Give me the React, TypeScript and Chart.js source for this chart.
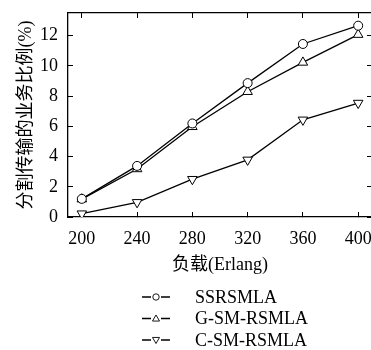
import React, { useEffect, useRef } from 'react';
import { Chart, registerables } from 'chart.js';
Chart.register(...registerables);

const loads = [200, 240, 280, 320, 360, 400];
const seriesNames = ['SSRSMLA', 'G-SM-RSMLA', 'C-SM-RSMLA'];
const ssrsmla = [1.2, 3.38, 6.19, 8.86, 11.45, 12.66];
const gsmRsmla = [1.18, 3.18, 5.97, 8.29, 10.23, 12.07];
const csmRsmla = [0.22, 0.97, 2.5, 3.78, 6.43, 7.54];
const yTickValues = [0, 2, 4, 6, 8, 10, 12];
const xTitle = '负载(Erlang)';
const yTitle = '分割传输的业务比例(%)';

const SERIF = '"Liberation Serif", "Noto Sans CJK SC", serif';

const legendPlugin = {
  id: 'stackedLegend',
  afterDraw(chart: any) {
    const ctx = chart.ctx;
    ctx.save();
    chart.data.datasets.forEach((ds: any, i: number) => {
      const y = 297 + i * 21.5;
      ctx.strokeStyle = '#000';
      ctx.lineWidth = 1.3;
      ctx.beginPath();
      ctx.moveTo(142, y);
      ctx.lineTo(151, y);
      ctx.moveTo(161, y);
      ctx.lineTo(170, y);
      ctx.stroke();
      ctx.lineWidth = 0.9;
      ctx.fillStyle = '#fff';
      const cx = 156;
      const r = 3.2;
      ctx.beginPath();
      if (ds.pointStyle === 'circle') {
        ctx.arc(cx, y, r, 0, Math.PI * 2);
      } else {
        const dir = ds.pointRotation === 180 ? -1 : 1;
        ctx.moveTo(cx, y - dir * r * 1.1);
        ctx.lineTo(cx - r * 1.1, y + dir * r * 0.8);
        ctx.lineTo(cx + r * 1.1, y + dir * r * 0.8);
        ctx.closePath();
      }
      ctx.fill();
      ctx.stroke();
      ctx.fillStyle = '#000';
      ctx.font = '18px ' + SERIF;
      ctx.textAlign = 'left';
      ctx.textBaseline = 'middle';
      ctx.fillText(ds.label, 195, y + 1);
    });
    ctx.restore();
  },
};

const zeroPad = (s: any) => {
  s.paddingTop = 0;
  s.paddingBottom = 0;
  s.paddingLeft = 0;
  s.paddingRight = 0;
};

export default function App() {
  const ref = useRef<HTMLCanvasElement>(null);
  useEffect(() => {
    const mk = (vals: number[]) => loads.map((x, i) => ({ x, y: vals[i] }));
    const common = {
      borderColor: '#000',
      borderWidth: 1.3,
      pointBackgroundColor: '#fff',
      pointBorderColor: '#000',
      pointBorderWidth: 1,
      tension: 0,
      fill: false,
    };
    const xTicksBuild = (s: any) => {
      s.ticks = loads.map((v) => ({ value: v }));
    };
    const yTicksBuild = (s: any) => {
      s.ticks = yTickValues.map((v) => ({ value: v }));
    };
    const grid = {
      drawOnChartArea: false,
      drawTicks: true,
      tickLength: -5,
      color: '#000',
      tickColor: '#000',
      lineWidth: 1,
    };
    const border = { display: true, color: '#000', width: 1.3 };
    const chart = new Chart(ref.current!, {
      type: 'line',
      data: {
        datasets: [
          { ...common, label: seriesNames[0], data: mk(ssrsmla), pointStyle: 'circle', pointRadius: 4.5 },
          { ...common, label: seriesNames[1], data: mk(gsmRsmla), pointStyle: 'triangle', pointRadius: 5.5 },
          { ...common, label: seriesNames[2], data: mk(csmRsmla), pointStyle: 'triangle', pointRotation: 180, pointRadius: 5.5 },
        ],
      } as any,
      options: {
        responsive: false,
        animation: false,
        devicePixelRatio: 1,
        layout: { autoPadding: false, padding: { top: 13, left: 0, right: 0, bottom: 0 } },
        plugins: { legend: { display: false }, tooltip: { enabled: false } },
        scales: {
          x: {
            type: 'linear',
            position: 'bottom',
            min: 190,
            max: 410,
            afterBuildTicks: xTicksBuild,
            afterFit: (s: any) => { s.height = 133; zeroPad(s); },
            grid,
            border,
            ticks: { color: '#000', padding: 16, font: { family: SERIF, size: 18 }, maxRotation: 0 },
            title: { display: true, text: xTitle, color: '#000', font: { family: SERIF, size: 18 }, padding: { top: 0, bottom: 74 } },
          },
          x2: {
            type: 'linear',
            position: 'top',
            min: 190,
            max: 410,
            afterBuildTicks: xTicksBuild,
            afterFit: (s: any) => { s.height = 0; zeroPad(s); },
            grid,
            border,
            ticks: { display: false },
          },
          y: {
            type: 'linear',
            position: 'left',
            min: 0,
            max: 13.5,
            afterBuildTicks: yTicksBuild,
            afterFit: (s: any) => { s.width = 68; zeroPad(s); },
            grid,
            border,
            ticks: { color: '#000', padding: 15, font: { family: SERIF, size: 18 } },
            title: { display: true, text: yTitle, color: '#000', font: { family: SERIF, size: 18 }, padding: { top: 15, bottom: 0 } },
          },
          y2: {
            type: 'linear',
            position: 'right',
            min: 0,
            max: 13.5,
            afterBuildTicks: yTicksBuild,
            afterFit: (s: any) => { s.width = 2; zeroPad(s); },
            grid,
            border,
            ticks: { display: false },
          },
        },
      } as any,
      plugins: [legendPlugin],
    });
    return () => chart.destroy();
  }, []);
  return (
    <div style={{ position: 'absolute', left: 0, top: 0, width: 371, height: 350, overflow: 'hidden', background: '#fff' }}>
      <canvas ref={ref} width={374} height={350} style={{ display: 'block' }} />
    </div>
  );
}
